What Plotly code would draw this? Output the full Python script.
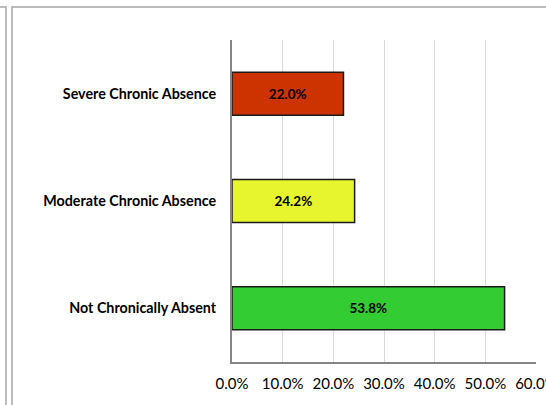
import plotly.graph_objects as go

categories = ["Severe Chronic Absence", "Moderate Chronic Absence", "Not Chronically Absent"]
values = [0.220, 0.242, 0.538]
labels = ["22.0%", "24.2%", "53.8%"]
colors = ["#CC3300", "#E6F52E", "#33CC33"]
tick_vals = [0.0, 0.1, 0.2, 0.3, 0.4, 0.5, 0.6]

L, R, T, B = 232, 10, 40, 43
W, H = 546, 405
PW, PH = W - L - R, H - T - B


def px(x):
    return (x - L) / PW


def py(y):
    return (H - B - y) / PH


fig = go.Figure(go.Bar(
    y=categories, x=values, orientation="h",
    marker=dict(color=colors, line=dict(color="#1a1a1a", width=1.5)),
    text=labels, textposition="inside", insidetextanchor="middle",
    constraintext="none",
    textfont=dict(family="Lato", size=13.5, color="black", weight="bold"),
    hoverinfo="skip",
))

fig.update_layout(
    width=W, height=H,
    margin=dict(l=L, r=R, t=T, b=B, autoexpand=False),
    paper_bgcolor="white", plot_bgcolor="white",
    bargap=0.6, showlegend=False,
    shapes=[
        dict(type="path", xref="paper", yref="paper",
             path="M %f,%f L %f,%f L %f,%f" % (px(12), py(420), px(12), py(7), px(560), py(7)),
             line=dict(color="#a6a6a6", width=1.5)),
        dict(type="path", xref="paper", yref="paper",
             path="M %f,%f L %f,%f L %f,%f" % (px(-10), py(7), px(6), py(7), px(6), py(420)),
             line=dict(color="#a6a6a6", width=1.5)),
    ],
)

fig.update_xaxes(
    range=[0, 0.6], tickvals=tick_vals, tickformat=".1%",
    showgrid=True, gridcolor="#d9d9d9", gridwidth=1,
    showline=True, linecolor="#868686", linewidth=2,
    zeroline=False, ticks="", ticklabelstandoff=7,
    ticklabeloverflow="allow",
    tickfont=dict(family="Lato", size=15, color="black"),
    automargin=False, fixedrange=True,
)
fig.update_yaxes(
    autorange="reversed",
    showline=True, linecolor="#868686", linewidth=2,
    ticks="", ticklabelstandoff=11,
    tickfont=dict(family="Lato", size=14.3, color="black", weight="bold"),
    automargin=False, fixedrange=True,
)

fig.write_html(
    "out.html",
    config={"displayModeBar": False},
    post_script="document.body.style.margin='0';document.body.style.overflow='hidden';",
)
